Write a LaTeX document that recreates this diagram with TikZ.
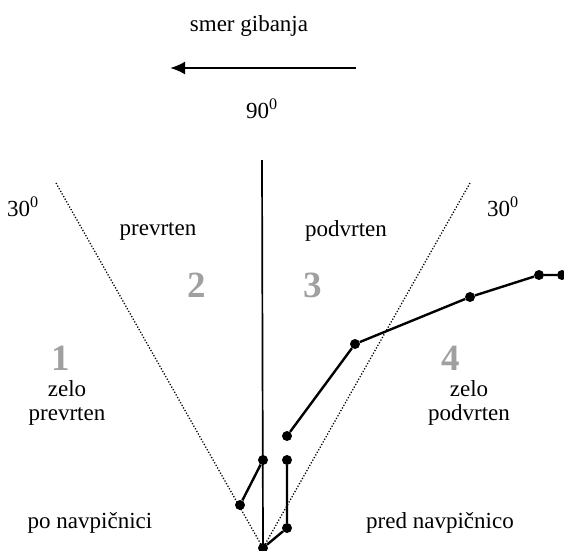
\documentclass[tikz,border=0pt]{standalone}
\usepackage{fontspec}
\setmainfont{Liberation Serif}
\usetikzlibrary{arrows.meta}
\definecolor{numgray}{RGB}{160,160,160}
\begin{document}
\begin{tikzpicture}[x=1pt,y=-1pt,
  lbl/.style={font=\fontsize{23}{24}\selectfont, inner sep=0pt, align=center},
  num/.style={font=\fontsize{37}{40}\selectfont\bfseries, text=numgray, inner sep=0pt},
  pt/.style={circle, fill=black, inner sep=0pt, minimum size=10pt},
  chain/.style={line width=2.4pt},
  guide/.style={line width=1.3pt, dash pattern=on 1.2pt off 1.8pt},
  axis/.style={line width=1.7pt}]
\useasboundingbox (0,0) rectangle (564,550);
% coordinates
\coordinate (apex) at (263,548);
\coordinate (vtop) at (262,160);
\coordinate (ltop) at (56,183);
\coordinate (rtop) at (470,183);
\coordinate (astart) at (356,68);
\coordinate (aend) at (170,68);
% guides
\draw[guide] (ltop) -- (apex);
\draw[guide] (rtop) -- (apex);
\draw[axis] (vtop) -- (apex);
% arrow
\draw[line width=2.4pt, -{Latex[length=15pt,width=13pt]}] (astart) -- (aend);
% texts
\node[lbl] (smer) at (249,26) {smer gibanja};
\node[lbl] (deg90) at (262,109) {90\textsuperscript{0}};
\node[lbl] (degl) at (23,207) {30\textsuperscript{0}};
\node[lbl] (degr) at (503,207) {30\textsuperscript{0}};
\node[lbl] (prev) at (158,231) {prevrten};
\node[lbl] (podv) at (346,231) {podvrten};
\node[num] (n2) at (197,285) {2};
\node[num] (n3) at (313,285) {3};
\node[num] (n1) at (61,358) {1};
\node[num] (n4) at (451,358) {4};
\node[lbl] (zp) at (67,403) {zelo\\prevrten};
\node[lbl] (zpo) at (469,403) {zelo\\podvrten};
\node[lbl] (pon) at (90,523) {po navpičnici};
\node[lbl] (pred) at (440,523) {pred navpičnico};
% left chain
\node[pt] (a0) at (263,548) {};
\node[pt] (l1) at (240,505) {};
\node[pt] (l2) at (263,460) {};
\draw[chain] (l1) -- (l2);
% right short chain
\node[pt] (r1) at (287,528) {};
\node[pt] (r2) at (287,460) {};
\draw[chain] (a0) -- (r1) -- (r2);
% right long chain
\node[pt] (c1) at (287,436) {};
\node[pt] (c2) at (355,344) {};
\node[pt] (c3) at (470,297) {};
\node[pt] (c4) at (539,275) {};
\node[pt] (c5) at (562,275) {};
\draw[chain] (c1) -- (c2) -- (c3) -- (c4) -- (c5);
\end{tikzpicture}
\end{document}
